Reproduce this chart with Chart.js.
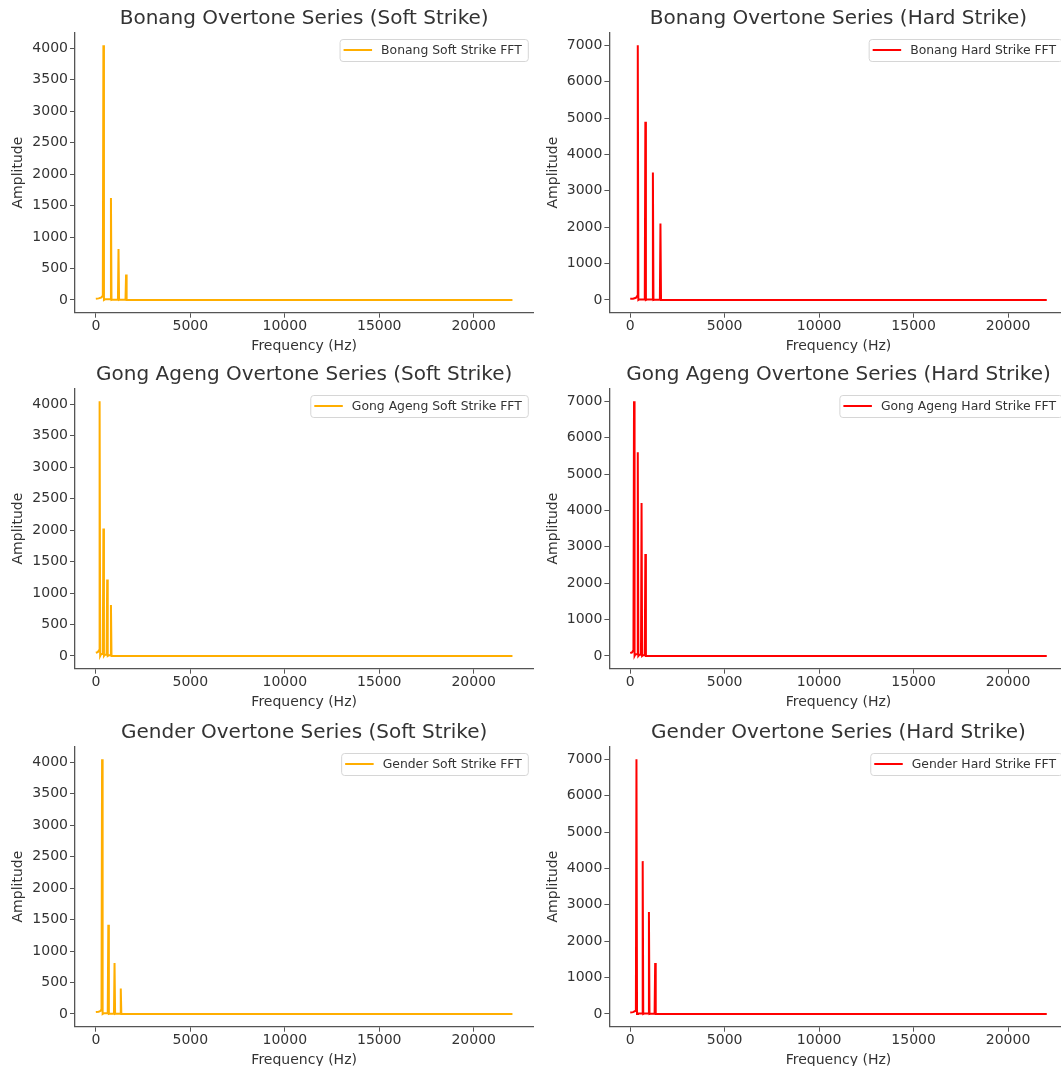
<!DOCTYPE html>
<html>
<head>
<meta charset="utf-8">
<script src="https://cdn.jsdelivr.net/npm/chart.js@4.4.1/dist/chart.umd.min.js"></script>
<style>
  html, body { margin: 0; padding: 0; background: #ffffff; }
  body { position: relative; width: 1061px; height: 1066px; overflow: hidden; }
  canvas { position: absolute; }
</style>
</head>
<body>
<canvas id="c0"></canvas>
<canvas id="c1"></canvas>
<canvas id="c2"></canvas>
<canvas id="c3"></canvas>
<canvas id="c4"></canvas>
<canvas id="c5"></canvas>
<script>
// Frequency spectra (FFT magnitude) of three gamelan instruments, soft vs hard strike.
// Each series: frequency bins (Hz) and amplitude at those bins.

const bonangSoftHz   = [0, 150, 300, 370, 400, 430, 480, 770, 800, 830, 880, 1170, 1200, 1230, 1280, 1570, 1600, 1630, 1700, 22050];
const bonangSoftAmp  = [20, 25, 40, 70, 4050, 0, 10, 10, 1620, 0, 5, 5, 810, 0, 5, 5, 405, 0, 0, 0];

const bonangHardHz   = [0, 150, 300, 370, 400, 430, 480, 770, 800, 830, 880, 1170, 1200, 1230, 1280, 1570, 1600, 1630, 1700, 22050];
const bonangHardAmp  = [30, 35, 60, 110, 7000, 0, 15, 15, 4900, 0, 10, 10, 3500, 0, 5, 5, 2100, 0, 0, 0];

const gongSoftHz     = [0, 100, 170, 200, 230, 280, 370, 400, 430, 480, 570, 600, 630, 680, 770, 800, 830, 900, 22050];
const gongSoftAmp    = [50, 60, 90, 4050, 0, 30, 30, 2025, 0, 20, 20, 1215, 0, 10, 10, 810, 0, 0, 0];

const gongHardHz     = [0, 100, 170, 200, 230, 280, 370, 400, 430, 480, 570, 600, 630, 680, 770, 800, 830, 900, 22050];
const gongHardAmp    = [80, 100, 160, 7000, 0, 50, 50, 5600, 0, 30, 30, 4200, 0, 20, 20, 2800, 0, 0, 0];

const genderSoftHz   = [0, 150, 260, 300, 330, 360, 410, 630, 660, 690, 740, 960, 990, 1020, 1070, 1290, 1320, 1350, 1420, 22050];
const genderSoftAmp  = [30, 35, 50, 80, 4050, 0, 10, 10, 1420, 0, 5, 5, 810, 0, 5, 5, 405, 0, 0, 0];

const genderHardHz   = [0, 150, 260, 300, 330, 360, 410, 630, 660, 690, 740, 960, 990, 1020, 1070, 1290, 1320, 1350, 1420, 22050];
const genderHardAmp  = [40, 50, 80, 130, 7000, 0, 15, 15, 4200, 0, 10, 10, 2800, 0, 5, 5, 1400, 0, 0, 0];

const freqTicks = [0, 5000, 10000, 15000, 20000];
const softTicks = [0, 500, 1000, 1500, 2000, 2500, 3000, 3500, 4000];
const hardTicks = [0, 1000, 2000, 3000, 4000, 5000, 6000, 7000];

const panelTitles = [
  'Bonang Overtone Series (Soft Strike)', 'Bonang Overtone Series (Hard Strike)',
  'Gong Ageng Overtone Series (Soft Strike)', 'Gong Ageng Overtone Series (Hard Strike)',
  'Gender Overtone Series (Soft Strike)', 'Gender Overtone Series (Hard Strike)'
];
const seriesLabels = [
  'Bonang Soft Strike FFT', 'Bonang Hard Strike FFT',
  'Gong Ageng Soft Strike FFT', 'Gong Ageng Hard Strike FFT',
  'Gender Soft Strike FFT', 'Gender Hard Strike FFT'
];

const SOFT_COLOR = '#ffae00';
const HARD_COLOR = '#ff0000';
const FONT = '"DejaVu Sans", "Liberation Sans", sans-serif';
const TEXT = '#333333';
const AXIS = '#555555';

// Legend drawn inside the plot area, top right, with a rounded frame.
const boxedLegend = {
  id: 'boxedLegend',
  afterDatasetsDraw(chart) {
    const ds = chart.data.datasets[0];
    const ctx = chart.ctx;
    const area = chart.chartArea;
    ctx.save();
    ctx.font = '12.4px ' + FONT;
    const tw = ctx.measureText(ds.label).width;
    const padL = 3.5, lineLen = 28.5, gap = 9, padR = 6.5, h = 22;
    const w = padL + lineLen + gap + tw + padR;
    const x = area.right - 5 - w;
    const y = area.top + 7;
    const r = 3;
    ctx.beginPath();
    ctx.moveTo(x + r, y);
    ctx.lineTo(x + w - r, y);
    ctx.arcTo(x + w, y, x + w, y + r, r);
    ctx.lineTo(x + w, y + h - r);
    ctx.arcTo(x + w, y + h, x + w - r, y + h, r);
    ctx.lineTo(x + r, y + h);
    ctx.arcTo(x, y + h, x, y + h - r, r);
    ctx.lineTo(x, y + r);
    ctx.arcTo(x, y, x + r, y, r);
    ctx.closePath();
    ctx.fillStyle = 'rgba(255,255,255,0.8)';
    ctx.fill();
    ctx.strokeStyle = '#d6d6d6';
    ctx.lineWidth = 1;
    ctx.stroke();
    ctx.beginPath();
    ctx.moveTo(x + padL, y + h / 2 - 0.5);
    ctx.lineTo(x + padL + lineLen, y + h / 2 - 0.5);
    ctx.strokeStyle = ds.borderColor;
    ctx.lineWidth = ds.borderWidth;
    ctx.stroke();
    ctx.fillStyle = TEXT;
    ctx.textBaseline = 'middle';
    ctx.textAlign = 'left';
    ctx.fillText(ds.label, x + padL + lineLen + gap, y + h / 2);
    ctx.restore();
  }
};

const plainNumber = (v) => String(v);

function makePanel(id, left, top, width, yAxisWidth, yTitlePad, rightPad, title, label, hz, amp, color, yTicks) {
  const canvas = document.getElementById(id);
  canvas.width = width;
  canvas.height = 357;
  canvas.style.left = left + 'px';
  canvas.style.top = top + 'px';
  const peak = Math.max(...amp);
  const points = hz.map((f, i) => ({ x: f, y: amp[i] }));
  const xSpan = hz[hz.length - 1] - hz[0];
  return new Chart(canvas, {
    type: 'line',
    data: {
      datasets: [{
        label: label,
        data: points,
        borderColor: color,
        backgroundColor: color,
        borderWidth: 2,
        pointRadius: 0,
        tension: 0,
        fill: false
      }]
    },
    options: {
      responsive: false,
      animation: false,
      devicePixelRatio: 1,
      events: [],
      layout: { padding: { left: 0, right: rightPad, top: 0, bottom: 0 } },
      plugins: {
        legend: { display: false },
        tooltip: { enabled: false },
        title: {
          display: true,
          text: title,
          fullSize: false,
          color: TEXT,
          font: { family: FONT, size: 20, weight: 'normal', lineHeight: 1.2 },
          padding: { top: 7, bottom: 1.5 }
        }
      },
      scales: {
        x: {
          type: 'linear',
          min: hz[0] - 0.05 * xSpan,
          max: hz[hz.length - 1] + 0.05 * xSpan,
          afterBuildTicks: (s) => { s.ticks = freqTicks.map(v => ({ value: v })); },
          afterFit: (s) => { s.height = 44.3; },
          grid: { display: true, drawOnChartArea: false, drawTicks: true, tickLength: 5, color: AXIS, lineWidth: 1 },
          border: { display: true, color: AXIS, width: 1.3 },
          ticks: { color: TEXT, padding: 0, maxRotation: 0, autoSkip: false, callback: plainNumber, font: { family: FONT, size: 14 } },
          title: { display: true, text: 'Frequency (Hz)', color: TEXT, font: { family: FONT, size: 14 }, padding: { top: 0, bottom: 2.5 } }
        },
        y: {
          type: 'linear',
          min: -0.05 * peak,
          max: 1.05 * peak,
          afterBuildTicks: (s) => { s.ticks = yTicks.map(v => ({ value: v })); },
          afterFit: (s) => { s.width = yAxisWidth; },
          grid: { display: true, drawOnChartArea: false, drawTicks: true, tickLength: 5, color: AXIS, lineWidth: 1 },
          border: { display: true, color: AXIS, width: 1.3 },
          ticks: { color: TEXT, padding: 2, autoSkip: false, callback: plainNumber, font: { family: FONT, size: 14 } },
          title: { display: true, text: 'Amplitude', color: TEXT, font: { family: FONT, size: 14 }, padding: { top: yTitlePad, bottom: 0 } }
        }
      }
    },
    plugins: [boxedLegend]
  });
}

const rowTops = [0, 355.8, 713.8];
const softData = [[bonangSoftHz, bonangSoftAmp], [gongSoftHz, gongSoftAmp], [genderSoftHz, genderSoftAmp]];
const hardData = [[bonangHardHz, bonangHardAmp], [gongHardHz, gongHardAmp], [genderHardHz, genderHardAmp]];

for (let r = 0; r < 3; r++) {
  // left column: plot area from x=75 to x=533.3
  makePanel('c' + (2 * r), 0, rowTops[r], 600, 75, 10, 66.7,
    panelTitles[2 * r], seriesLabels[2 * r], softData[r][0], softData[r][1], SOFT_COLOR, softTicks);
  // right column: plot area from x=609.4 to x=1067.6
  makePanel('c' + (2 * r + 1), 540, rowTops[r], 548, 69.4, 5, 20.4,
    panelTitles[2 * r + 1], seriesLabels[2 * r + 1], hardData[r][0], hardData[r][1], HARD_COLOR, hardTicks);
}
</script>
</body>
</html>
